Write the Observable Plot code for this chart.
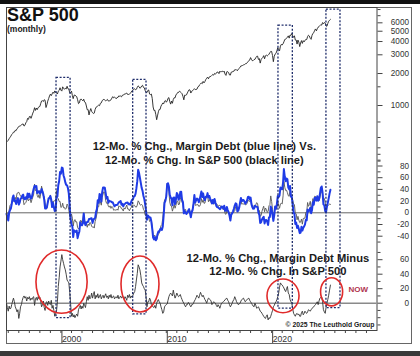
<!DOCTYPE html>
<html><head><meta charset="utf-8">
<script src="https://cdn.jsdelivr.net/npm/d3@7"></script>
<script src="https://cdn.jsdelivr.net/npm/@observablehq/plot@0.6"></script>
<style>
html,body{margin:0;padding:0;background:#fff;}
#wrap{position:relative;width:420px;height:356px;overflow:hidden;font-family:"Liberation Sans",Arial,sans-serif;background:#fff;}
#wrap svg{position:absolute;left:0;top:0;}
.bar-top{position:absolute;left:0;top:0;width:420px;height:4px;background:#111;}
.bar-bot{position:absolute;left:0;top:351px;width:420px;height:5px;background:#3a3a3a;}
.outer{position:absolute;left:6px;top:7px;width:406px;height:337px;box-sizing:border-box;border:1px solid #666;}
#title{position:absolute;left:7px;top:8px;font-size:18px;line-height:15px;height:15px;font-weight:bold;color:#111;white-space:nowrap;}
#sub{position:absolute;left:7px;top:25px;font-size:8.5px;line-height:8px;height:8px;font-weight:bold;color:#222;white-space:nowrap;}
</style>
</head><body>
<div id="wrap">
  <div class="bar-top"></div>
  <div class="outer"></div>
  <div id="title">S&amp;P 500</div>
  <div id="sub">(monthly)</div>
  <div class="bar-bot"></div>
</div>
<script>
// ---------- DATA ----------
// S&P 500 month-end closes, starting Nov 1993
const sp500 = [
  461.8, 466.5,
  481.6, 467.1, 445.8, 450.9, 456.5, 444.3, 458.3, 475.5, 462.7, 472.4, 453.7, 459.3,
  470.4, 487.4, 500.7, 514.7, 533.4, 544.8, 562.1, 561.9, 584.4, 581.5, 605.4, 615.9,
  636.0, 640.4, 645.5, 654.2, 669.1, 670.6, 639.9, 652.0, 687.3, 705.3, 757.0, 740.7,
  786.2, 790.8, 757.1, 801.3, 848.3, 885.1, 954.3, 899.5, 947.3, 914.6, 955.4, 970.4,
  980.3, 1049.3, 1101.8, 1111.8, 1090.8, 1133.8, 1120.7, 957.3, 1017.0, 1098.7, 1163.6, 1229.2,
  1279.6, 1238.3, 1286.4, 1335.2, 1301.8, 1372.7, 1328.7, 1320.4, 1282.7, 1362.9, 1389.0, 1469.3,
  1394.5, 1366.4, 1498.6, 1452.4, 1420.6, 1454.6, 1430.8, 1517.7, 1436.5, 1429.4, 1315.2, 1320.3,
  1366.0, 1239.9, 1160.3, 1249.5, 1255.8, 1224.4, 1211.2, 1133.6, 1040.9, 1059.8, 1139.5, 1148.1,
  1130.2, 1106.7, 1147.4, 1076.9, 1067.1, 989.8, 911.6, 916.1, 815.3, 885.8, 936.3, 879.8,
  855.7, 841.2, 848.2, 916.9, 963.6, 974.5, 990.3, 1008.0, 996.0, 1050.7, 1058.2, 1111.9,
  1131.1, 1144.9, 1126.2, 1107.3, 1120.7, 1140.8, 1101.7, 1104.2, 1114.6, 1130.2, 1173.8, 1211.9,
  1181.3, 1203.6, 1180.6, 1156.9, 1191.5, 1191.3, 1234.2, 1220.3, 1228.8, 1207.0, 1249.5, 1248.3,
  1280.1, 1280.7, 1294.9, 1310.6, 1270.1, 1270.2, 1276.7, 1303.8, 1335.9, 1377.9, 1400.6, 1418.3,
  1438.2, 1406.8, 1420.9, 1482.4, 1530.6, 1503.4, 1455.3, 1474.0, 1526.8, 1549.4, 1481.1, 1468.4,
  1378.6, 1330.6, 1322.7, 1385.6, 1400.4, 1280.0, 1267.4, 1282.8, 1166.4, 968.8, 896.2, 903.3,
  825.9, 735.1, 797.9, 872.8, 919.1, 919.3, 987.5, 1020.6, 1057.1, 1036.2, 1095.6, 1115.1,
  1073.9, 1104.5, 1169.4, 1186.7, 1089.4, 1030.7, 1101.6, 1049.3, 1141.2, 1183.3, 1180.6, 1257.6,
  1286.1, 1327.2, 1325.8, 1363.6, 1345.2, 1320.6, 1292.3, 1218.9, 1131.4, 1253.3, 1247.0, 1257.6,
  1312.4, 1365.7, 1408.5, 1397.9, 1310.3, 1362.2, 1379.3, 1406.6, 1440.7, 1412.2, 1416.2, 1426.2,
  1498.1, 1514.7, 1569.2, 1597.6, 1630.7, 1606.3, 1685.7, 1633.0, 1681.6, 1756.5, 1805.8, 1848.4,
  1782.6, 1859.5, 1872.3, 1884.0, 1923.6, 1960.2, 1930.7, 2003.4, 1972.3, 2018.1, 2067.6, 2058.9,
  1995.0, 2104.5, 2067.9, 2085.5, 2107.4, 2063.1, 2103.8, 1972.2, 1920.0, 2079.4, 2080.4, 2043.9,
  1940.2, 1932.2, 2059.7, 2065.3, 2097.0, 2098.9, 2173.6, 2171.0, 2168.3, 2126.2, 2198.8, 2238.8,
  2278.9, 2363.6, 2362.7, 2384.2, 2411.8, 2423.4, 2470.3, 2471.7, 2519.4, 2575.3, 2647.6, 2673.6,
  2823.8, 2713.8, 2640.9, 2648.1, 2705.3, 2718.4, 2816.3, 2901.5, 2914.0, 2711.7, 2760.2, 2506.9,
  2704.1, 2784.5, 2834.4, 2945.8, 2752.1, 2941.8, 2980.4, 2926.5, 2976.7, 3037.6, 3141.0, 3230.8,
  3225.5, 2954.2, 2584.6, 2912.4, 3044.3, 3100.3, 3271.1, 3500.3, 3363.0, 3270.0, 3621.6, 3756.1,
  3714.2, 3811.2, 3972.9, 4181.2, 4204.1, 4297.5, 4395.3, 4522.7, 4307.5, 4605.4, 4567.0, 4766.2,
  4515.6, 4373.9, 4530.4, 4131.9, 4132.2, 3785.4, 4130.3, 3955.0, 3585.6, 3872.0, 4080.1, 3839.5,
  4076.6, 3970.2, 4109.3, 4169.5, 4179.8, 4450.4, 4589.0, 4507.7, 4288.1, 4193.8, 4567.8, 4769.8,
  4845.7, 5096.3, 5254.4, 5035.7, 5277.5, 5460.5, 5522.3, 5648.4, 5762.5, 5705.5, 6032.4, 5881.6,
  6040.5, 5954.5, 5611.9, 5569.1, 5911.7, 6205.0, 6339.4, 6460.3
];
// 12-mo % chg. margin debt minus 12-mo % chg. S&P 500, starting Nov 1994
const marginSpread = [
  0, -6,
  -11, -4, -8, -7, -2, 3, 7, 2, -5, -8, -12, -9,
  -21, -14, -5, -2, 4, 8, 10, 7, 9, 3, 8, 6,
  9, 4, 7, 5, 8, 9, -3, 6, 8, 4, 9, 6,
  8, 2, -5, -2, 3, -6, -10, 1, 2, -3, 3, -1,
  -2, 4, -7, -3, -10, -18, -14, -11, 2, 23, 35, 50,
  58, 67, 60, 55, 50, 46, 40, 32, 30, 28, 15, 0,
  -18, -14, -19, -16, -20, -17, -15, -18, -9, -6, -3, -8,
  -4, -7, 0, -3, -6, 2, 9, 4, 11, 6, 8, 14,
  7, 12, 16, 6, 11, 8, 13, 7, 10, 12, 6, 9,
  11, 7, 10, 13, 8, 10, 6, 11, 8, 12, 7, 9,
  10, 6, 8, 9, 7, 11, 6, 8, 10, 7, 9, 8,
  6, 9, 7, 4, 11, 8, 12, 7, 10, 8, 11, 14,
  16, 23, 32, 41, 53, 50, 46, 38, 28, 25, 23, 20,
  18, 8, -5, 2, 2, 7, 5, -2, -4, -5, -6, -3,
  -7, 0, 3, 5, 2, 0, -5, -9, -14, -12, -5, -3,
  -2, -1, 4, 9, 12, 14, 12, 10, 18, 12, 7, 10,
  14, 11, 9, 10, 12, 8, 5, 2, 0, -3, -5, -2,
  -2, 1, 0, -3, -5, -2, -2, 0, 3, 5, 8, 11,
  9, 7, 11, 15, 12, 9, 11, 8, 5, 3, 0, 4,
  7, 6, 5, 3, -2, 0, 2, 1, 0, -3, -5, -2,
  -4, -7, -3, 0, 1, 2, 3, 5, 6, 7, 4, 2,
  -2, -5, -3, 0, 3, 5, 9, 6, 2, 0, -2, -1,
  0, 3, 5, 6, 7, 4, 2, 4, 5, 6, 7, 4,
  2, 0, -2, -4, -5, 0, -3, -7, -6, -5, -8, -11,
  -12, -14, -16, -18, -20, -21, -18, -16, -23, -20, -21, -18,
  -14, -10, -5, -3, 0, 2, 5, 9, 14, 22, 28, 26,
  25, 23, 21, 18, 16, 20, 23, 14, 12, 5, 2, 0,
  -8, -14, -16, -18, -15, -14, -16, -15, -18, -18, -13, -11,
  -16, -14, -11, -13, -14, -12, -9, -10, -11, -9, -7, -6,
  -5, -3, -2, 0, 2, -2, 3, 7, 8, 9, 2, -9,
  -12, -14, -6, 0, 5, 11, 18, 25
];
// axis ticks
const spLabelTicks = [1000, 2000, 3000, 4000, 5000, 6000];
const spMinorTicks = [300, 400, 500, 700, 1500, 7000, 8000];
const midLabelTicks = [-40, -20, 0, 20, 40, 60, 80];
const midMinorTicks = [-50, -30, -10, 10, 30, 50, 70, 90, 100];
const lowLabelTicks = [0, 20, 40, 60];
const lowMinorTicks = [-30, -20, -10, 10, 30, 50, 70];
const decadeTicks = ["2000-01-01", "2010-01-01", "2020-01-01"];
// highlighted episodes (dashed boxes): date span, S&P level at top, spread level at bottom
const boxes = [
  {from: "1999-08-01", to: "2000-12-01", spTop: 1820, spreadBottom: -20.7},
  {from: "2006-11-10", to: "2008-02-15", spTop: 1745, spreadBottom: -15.3},
  {from: "2020-08-25", to: "2022-01-05", spTop: 5650, spreadBottom: -7.6},
  {from: "2025-03-15", to: "2026-07-15", spTop: 8000, spreadBottom: -6.9}
];
// red ellipses (bounding spans in bottom-panel units)
const ellipses = [
  {from: "1997-09-05", to: "2002-07-15", top: 72.7, bottom: -14.6},
  {from: "2005-10-01", to: "2009-05-10", top: 64.4, bottom: -12.8},
  {from: "2019-08-10", to: "2022-08-25", top: 32.7, bottom: -13.8},
  {from: "2024-09-10", to: "2026-10-15", top: 34.5, bottom: -4.4}
];
const midNote = {date: "2013-08-15", value: 102.7, text: "12-Mo. % Chg., Margin Debt (blue line) Vs.\n12-Mo. % Chg. In S&P 500 (black line)"};
const lowNote = {date: "2020-08-05", value: 53.2, text: "12-Mo. % Chg., Margin Debt Minus\n12-Mo. % Chg. In S&P 500"};
const nowNote = {date: "2028-03-20", value: 19.3, text: "NOW"};
const creditNote = {date: "2025-07-15", value: -29.8, text: "© 2025 The Leuthold Group"};

// ---------- BUILD ----------
const parse = d3.utcParse("%Y-%m-%d");
const spDates = sp500.map((_, i) => new Date(Date.UTC(1993, 10 + i, 1)));
const rows = marginSpread.map((s, j) => {
  const i = j + 12;
  const spChg = (sp500[i] / sp500[i - 12] - 1) * 100;
  return {date: spDates[i], level: sp500[i], spChg, marginChg: spChg + s, spread: s};
});

const W = 420, H = 356;
const xDomain = [new Date(Date.UTC(1994, 10, 1)), new Date(Date.UTC(2030, 0, 1))];
const common = {
  width: W, height: H, marginLeft: 6, marginRight: 43.5, marginTop: 7, marginBottom: 26,
  style: {background: "transparent", overflow: "visible", fontFamily: "'Liberation Sans', Arial, sans-serif", color: "#333"}
};
const xOpt = {type: "utc", domain: xDomain, range: [6, 376.5], axis: null, label: null};
const fmt = d => String(d);
const rightTicks = (ticks, size) => Plot.axisY(ticks, {anchor: "right", tickSize: size, tickFormat: () => "", label: null, stroke: "#444"});
const rightLabels = ticks => Plot.text(ticks, {y: d => d, text: fmt, frameAnchor: "right", dx: 32, textAnchor: "end", fontSize: 8.2, fill: "#333"});

// Panel A: S&P level (log)
const plotA = Plot.plot({
  ...common,
  x: xOpt,
  y: {type: "log", domain: [200, 9000], range: [179.3, 3.6], axis: null, label: null},
  marks: [
    rightTicks(spMinorTicks, 3),
    rightTicks(spLabelTicks, 5),
    rightLabels(spLabelTicks),
    Plot.lineY(rows, {x: "date", y: "level", stroke: "#222", strokeWidth: 0.9})
  ]
});

// Panel B: 12-mo % changes
const plotB = Plot.plot({
  ...common,
  x: xOpt,
  y: {domain: [-40, 80], range: [235.7, 165.5], axis: null, label: null},
  marks: [
    rightTicks(midMinorTicks, 3),
    rightTicks(midLabelTicks, 5),
    rightLabels(midLabelTicks),
    Plot.ruleY([0], {stroke: "#666", strokeWidth: 1}),
    Plot.lineY(rows, {x: "date", y: "spChg", stroke: "#555", strokeWidth: 0.9}),
    Plot.lineY(rows, {x: "date", y: "marginChg", stroke: "#1f3be6", strokeWidth: 2}),
    Plot.text([midNote], {x: d => parse(d.date), y: "value", text: "text", fontSize: 11.2, fontWeight: "bold", fill: "#1a1a1a", lineHeight: 1.28, textAnchor: "middle", lineAnchor: "middle"})
  ]
});

// Panel C: spread
const plotC = Plot.plot({
  ...common,
  x: xOpt,
  y: {domain: [0, 60], range: [302.7, 259.2], axis: null, label: null},
  marks: [
    Plot.frame({stroke: "#444"}),
    Plot.axisX(d3.utcYear.range(new Date(Date.UTC(1995, 0, 1)), new Date(Date.UTC(2030, 0, 1))), {anchor: "bottom", tickSize: 3, tickFormat: () => "", label: null, stroke: "#444"}),
    Plot.axisX(decadeTicks.map(parse), {anchor: "bottom", tickSize: 13, tickPadding: -7.5, textAnchor: "start", dx: 1, tickFormat: d3.utcFormat("%Y"), label: null, fontSize: 8.7, fill: "#333", stroke: "#444"}),
    rightTicks(lowMinorTicks, 3),
    rightTicks(lowLabelTicks, 5),
    rightLabels(lowLabelTicks),
    Plot.ruleY([0], {stroke: "#8a8a8a", strokeWidth: 1.5}),
    Plot.lineY(rows, {x: "date", y: "spread", stroke: "#333", strokeWidth: 0.9}),
    Plot.text([lowNote], {x: d => parse(d.date), y: "value", text: "text", fontSize: 11.2, fontWeight: "bold", fill: "#1a1a1a", lineHeight: 1.14, textAnchor: "middle", lineAnchor: "middle"}),
    Plot.text([nowNote], {x: d => parse(d.date), y: "value", text: "text", fontSize: 8, fontWeight: "bold", fill: "#b0344f", textAnchor: "middle"}),
    Plot.text([creditNote], {x: d => parse(d.date), y: "value", text: "text", fontSize: 6.8, fontWeight: "bold", fill: "#1a1a1a", textAnchor: "middle"})
  ]
});

const wrap = document.getElementById("wrap");
const barBot = wrap.querySelector(".bar-bot");
wrap.insertBefore(plotA, barBot);
wrap.insertBefore(plotB, barBot);
wrap.insertBefore(plotC, barBot);

// overlays on the top layer, positioned through the plots' own scales
const sx = plotC.scale("x"), syC = plotC.scale("y"), syA = plotA.scale("y");
const ov = d3.select(plotC).append("g");
ov.selectAll("rect.box").data(boxes).join("rect")
  .attr("x", d => sx.apply(parse(d.from)))
  .attr("width", d => sx.apply(parse(d.to)) - sx.apply(parse(d.from)))
  .attr("y", d => syA.apply(d.spTop))
  .attr("height", d => syC.apply(d.spreadBottom) - syA.apply(d.spTop))
  .attr("fill", "none").attr("stroke", "#1f2d6b").attr("stroke-width", 1.3).attr("stroke-dasharray", "2,1.6");
ov.selectAll("ellipse").data(ellipses).join("ellipse")
  .attr("cx", d => (sx.apply(parse(d.from)) + sx.apply(parse(d.to))) / 2)
  .attr("cy", d => (syC.apply(d.top) + syC.apply(d.bottom)) / 2)
  .attr("rx", d => (sx.apply(parse(d.to)) - sx.apply(parse(d.from))) / 2)
  .attr("ry", d => (syC.apply(d.bottom) - syC.apply(d.top)) / 2)
  .attr("fill", "none").attr("stroke", "#e02a2a").attr("stroke-width", 1.6);
</script>
</body></html>
